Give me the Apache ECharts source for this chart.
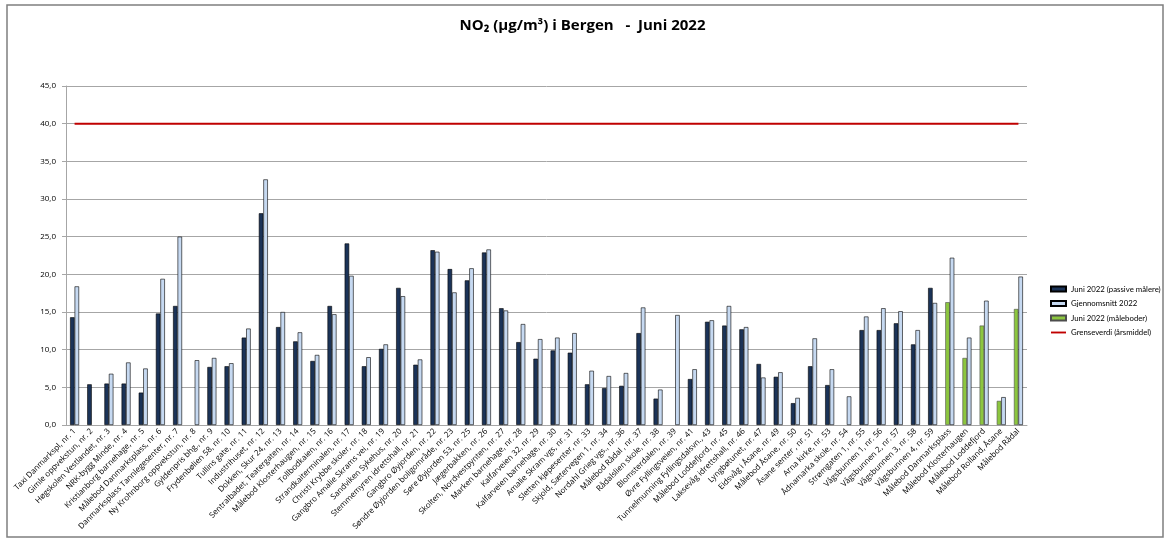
<!DOCTYPE html>
<html>
<head>
<meta charset="utf-8">
<script src="https://cdn.jsdelivr.net/npm/echarts@6/dist/echarts.min.js"></script>
<style>
  html, body { margin: 0; padding: 0; background: #fff; }
  #chart { width: 1165px; height: 539px; }
</style>
</head>
<body>
<div id="chart"></div>
<script>
// målestasjoner
var categories = [
    'Taxi Danmarkspl, nr. 1', 'Gimle oppvekstun, nr. 2', 'Høgskolen Vestlandet, nr. 3', 'NRK-bygg Minde, nr. 4',
    'Kristianborg barnehage, nr. 5', 'Målebod Danmarksplass, nr. 6', 'Danmarksplass Tannlegesenter, nr. 7',
    'Ny Krohnborg oppvekstun, nr. 8', 'Gyldenpris bhg., nr. 9', 'Frydenbølien 58, nr. 10', 'Tullins gate, nr. 11',
    'Industrihuset, nr. 12', 'Dokken, Skur 24, nr. 13', 'Sentralbadet, Teatergaten, nr. 14',
    'Målebod Klosterhaugen, nr. 15', 'Tollbodkaien, nr. 16', 'Strandkaiterminalen, nr. 17',
    'Christi Krybbe skoler, nr. 18', 'Gangbro Amalie Skrams vei, nr. 19', 'Sandviken Sykehus, nr. 20',
    'Stemmemyren idrettshall, nr. 21', 'Gangbro Øyjorden, nr. 22', 'Søndre Øyjorden boligområde, nr. 23',
    'Søre Øyjorden 53, nr. 25', 'Jægerbakken, nr. 26', 'Skolten, Nordvestpynten, nr. 27',
    'Marken barnehage, nr. 28', 'Kalfarveien 32, nr. 29', 'Kalfarveien barnehage, nr. 30',
    'Amalie Skram vgs, nr. 31', 'Sletten kjøpesenter, nr. 33', 'Skjold, Sætervegen 1, nr. 34',
    'Nordahl Grieg vgs., nr. 36', 'Målebod Rådal , nr. 37', 'Rådalslien skole, nr. 38', 'Blomsterdalen, nr. 39',
    'Øvre Fyllingsveien, nr. 41', 'Tunnelmunning Fyllingsdalsvn., 43', 'Målebod Loddefjord, nr. 45',
    'Laksevåg idrettshall, nr. 46', 'Lyngbøtunet, nr. 47', 'Eidsvåg i Åsane, nr. 49', 'Målebod Åsane, nr. 50',
    'Åsane senter , nr. 51', 'Arna kirke, nr. 53', 'Ådnamarka skole, nr. 54', 'Strømgaten 1, nr. 55',
    'Vågsbunnen 1, nr. 56', 'Vågsbunnen 2, nr. 57', 'Vågsbunnen 3, nr. 58', 'Vågsbunnen 4, nr. 59',
    'Målebod Danmarksplass', 'Målebod Klosterhaugen', 'Målebod Loddefjord', 'Målebod Rolland, Åsane',
    'Målebod Rådal'
];
// Juni 2022 (passive målere)
var passive = [
    14.3, 5.4, 5.5, 5.5, 4.3, 14.8, 15.8, null, 7.7, 7.8, 11.6, 28.1, 13.0, 11.1,
    8.5, 15.8, 24.1, 7.8, 10.1, 18.2, 8.0, 23.2, 20.7, 19.2, 22.9, 15.5, 11.0, 8.8,
    9.9, 9.6, 5.4, 4.9, 5.2, 12.2, 3.5, null, 6.1, 13.7, 13.2, 12.7, 8.1, 6.4,
    2.9, 7.8, 5.3, null, 12.6, 12.6, 13.5, 10.7, 18.2,
    null, null, null, null, null
];
// Gjennomsnitt 2022
var average = [
    18.4, null, 6.8, 8.3, 7.5, 19.4, 25.0, 8.6, 8.9, 8.2, 12.8, 32.6, 15.0, 12.3,
    9.3, 14.7, 19.8, 9.0, 10.7, 17.1, 8.7, 23.0, 17.6, 20.8, 23.3, 15.2, 13.4, 11.4,
    11.6, 12.2, 7.2, 6.5, 6.9, 15.6, 4.7, 14.6, 7.4, 13.9, 15.8, 13.0, 6.3, 7.0,
    3.6, 11.5, 7.4, 3.8, 14.4, 15.5, 15.1, 12.6, 16.2,
    22.2, 11.6, 16.5, 3.7, 19.7
];
// Juni 2022 (måleboder)
var maleboder = [
    null, null, null, null, null, null, null, null, null, null, null, null, null, null,
    null, null, null, null, null, null, null, null, null, null, null, null, null, null,
    null, null, null, null, null, null, null, null, null, null, null, null, null, null,
    null, null, null, null, null, null, null, null, null,
    16.3, 8.9, 13.2, 3.2, 15.4
];
var limitValue = 40;
var yTicks = { min: 0, max: 45, interval: 5 };

var limitLine = [];
for (var i = 0; i < categories.length; i++) {
    limitLine.push(limitValue);
}

var chart = echarts.init(document.getElementById('chart'));
var font = 'Open Sans';
// tynn strek som legend-ikon for grenseverdien
var lineIcon = 'path://M0,0L0,0M0,1.5L16,1.5L16,3.5L0,3.5ZM16,5L16,5';
var option = {
    animation: false,
    backgroundColor: '#fff',
    textStyle: { fontFamily: font },
    title: {
        text: 'NO₂ (µg/m³) i Bergen   -  Juni 2022',
        left: 'center',
        top: 13,
        textStyle: { fontSize: 15, fontWeight: 'bold', color: '#000', fontFamily: font }
    },
    graphic: [{
        type: 'rect',
        shape: { x: 7, y: 5, width: 1156, height: 532 },
        style: { fill: 'none', stroke: '#7f7f7f', lineWidth: 1.5 },
        silent: true
    }],
    legend: {
        orient: 'vertical',
        left: 1045,
        top: 280,
        itemWidth: 15,
        itemHeight: 5,
        itemGap: 6.5,
        textStyle: { fontSize: 7.8, color: '#000', fontFamily: 'Lato' },
        data: [
            { name: 'Juni 2022 (passive målere)', icon: 'rect' },
            { name: 'Gjennomsnitt 2022', icon: 'rect' },
            { name: 'Juni 2022 (måleboder)', icon: 'rect' },
            { name: 'Grenseverdi (årsmiddel)', icon: lineIcon }
        ]
    },
    grid: { left: 66, right: 138, top: 86, bottom: 114 },
    xAxis: {
        type: 'category',
        data: categories,
        axisLine: { lineStyle: { color: '#a6a6a6' } },
        axisTick: { show: false },
        axisLabel: {
            interval: 0,
            rotate: 45,
            fontSize: 8,
            color: '#000',
            margin: 5,
            fontFamily: font
        }
    },
    yAxis: {
        type: 'value',
        min: yTicks.min,
        max: yTicks.max,
        interval: yTicks.interval,
        axisLine: { show: true, lineStyle: { color: '#a6a6a6' } },
        axisTick: { show: true, length: 4, lineStyle: { color: '#a6a6a6' } },
        splitLine: { lineStyle: { color: '#a6a6a6' } },
        axisLabel: {
            fontSize: 8,
            color: '#000',
            margin: 10,
            formatter: function (v) { return v.toFixed(1).replace('.', ','); }
        }
    },
    series: [
        {
            name: 'Juni 2022 (passive målere)',
            type: 'bar',
            stack: 'juni',
            data: passive,
            barWidth: 4.5,
            barGap: '0%',
            itemStyle: { color: '#1b3358', borderColor: '#000', borderWidth: 0.6 }
        },
        {
            name: 'Juni 2022 (måleboder)',
            type: 'bar',
            stack: 'juni',
            data: maleboder,
            barWidth: 4.5,
            itemStyle: { color: '#8cc63f', borderColor: '#4d4d4d', borderWidth: 0.6 }
        },
        {
            name: 'Gjennomsnitt 2022',
            type: 'bar',
            data: average,
            barWidth: 4.5,
            barGap: '0%',
            itemStyle: { color: '#c6d9f1', borderColor: '#000', borderWidth: 0.6 }
        },
        {
            name: 'Grenseverdi (årsmiddel)',
            type: 'line',
            data: limitLine,
            symbol: 'none',
            lineStyle: { color: '#c00000', width: 2 },
            itemStyle: { color: '#c00000' },
            z: 5
        }
    ]
};
chart.setOption(option);
</script>
</body>
</html>
